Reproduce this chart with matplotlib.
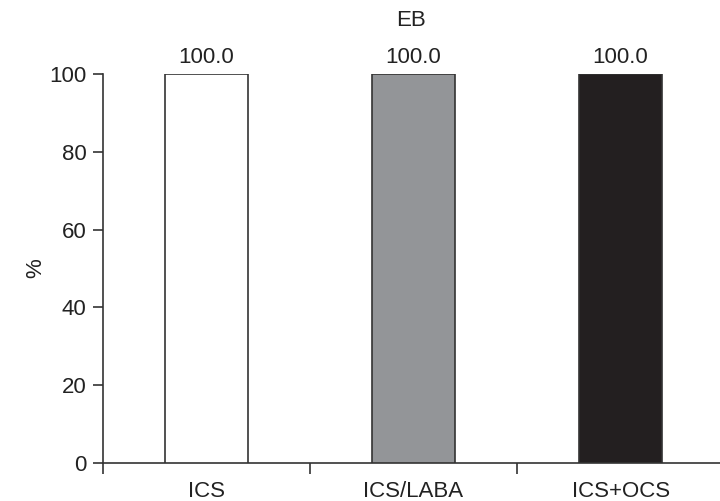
import matplotlib
matplotlib.use("Agg")
import matplotlib.pyplot as plt

categories = ["ICS", "ICS/LABA", "ICS+OCS"]
values = [100.0, 100.0, 100.0]
colors = ["#ffffff", "#939598", "#231f20"]
yticks = [0, 20, 40, 60, 80, 100]

plt.rcParams['font.family'] = ['Liberation Sans', 'DejaVu Sans']
fig = plt.figure(figsize=(7.2, 5.01), dpi=100)
ax = fig.add_axes([0.143, 0.076, 0.857, 0.776])

x = list(range(len(categories)))
bars = ax.bar(x, values, width=0.4, color=colors, edgecolor="#333333", linewidth=1.2, zorder=3)
for xi, v in zip(x, values):
    ax.text(xi, v + 1.5, f"{v:.1f}", ha="center", va="bottom", fontsize=16, color="#222222")

ax.set_xlim(-0.5, 2.48)
ax.set_ylim(0, 100)
ax.set_yticks(yticks)
ax.set_yticklabels([str(t) for t in yticks])
ax.set_xticks([-0.5, 0.5, 1.5])
ax.set_xticklabels([])
ax.set_xticks(x, minor=True)
ax.set_xticklabels(categories, minor=True)
ax.tick_params(axis="x", which="minor", length=0, pad=13, labelsize=16, colors="#222222")
ax.tick_params(axis="x", which="major", length=8, width=1.2, color="#333333", direction="out")
ax.tick_params(axis="y", length=7, width=1.2, color="#333333", labelsize=16, labelcolor="#222222", pad=5)
for s in ["top", "right"]:
    ax.spines[s].set_visible(False)
for s in ["left", "bottom"]:
    ax.spines[s].set_color("#333333")
    ax.spines[s].set_linewidth(1.2)
ax.set_ylabel("%", fontsize=16, color="#222222", labelpad=2)
ax.set_title("EB", fontsize=16, color="#222222", pad=35)

fig.savefig("out.png", dpi=100)
